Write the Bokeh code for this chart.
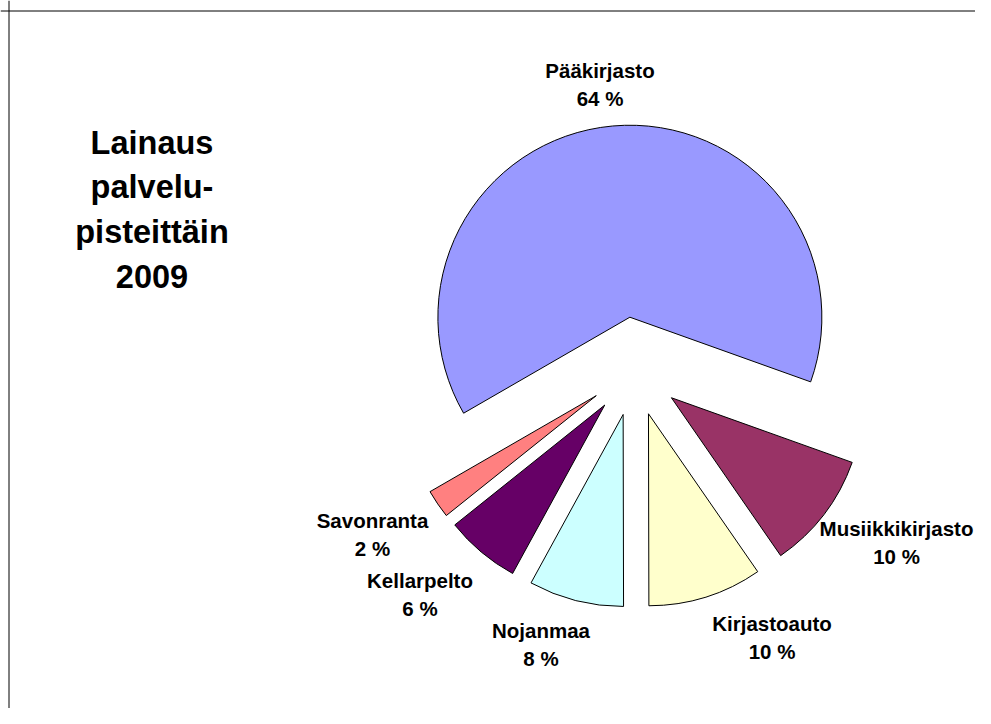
import math
from bokeh.plotting import figure
from bokeh.models import Range1d, Span, ColumnDataSource
from bokeh.core.properties import value
from bokeh.embed import file_html
from bokeh.resources import INLINE

# ---- data ----
categories = ["Pääkirjasto", "Musiikkikirjasto", "Kirjastoauto", "Nojanmaa", "Kellarpelto", "Savonranta"]
shares = [63.8, 9.9, 9.6, 8.0, 6.3, 2.4]
colors = ["#9999FF", "#993366", "#FFFFCC", "#CCFFFF", "#660066", "#FF8080"]
title_lines = ["Lainaus", "palvelu-", "pisteittäin", "2009"]

# ---- layout (pixel positions in the picture) ----
W, H = 975, 708


def X(px):
    return px


def Y(py):
    return H - py


CX, CY = 634.1, 369.0
R = 192
START = 240.0  # degrees clockwise from 12 o'clock
explode = [52.5, 46.4, 46.4, 46.4, 46.4, 46.4]
label_pos = [(599.5, 84), (896, 542), (771.5, 637), (540.5, 644), (419.5, 593.5), (372, 533.5)]
label_half = 14
title_x = 151.5
title_mid = [142, 186, 231, 276]

total = sum(shares)
xs, ys, sas, eas = [], [], [], []
cum = 0.0
for s, d in zip(shares, explode):
    t1 = START + cum / total * 360.0
    t2 = t1 + s / total * 360.0
    tm = math.radians((t1 + t2) / 2.0)
    xs.append(X(CX) + d * math.sin(tm))
    ys.append(Y(CY) + d * math.cos(tm))
    sas.append(math.radians(90.0 - t2))
    eas.append(math.radians(90.0 - t1))
    cum += s

src = ColumnDataSource(dict(x=xs, y=ys, sa=sas, ea=eas, color=colors))

p = figure(width=W, height=H, x_range=Range1d(0, W), y_range=Range1d(0, H),
           output_backend="svg", toolbar_location=None, min_border=0,
           x_axis_type=None, y_axis_type=None)
p.grid.visible = False
p.outline_line_color = None
p.background_fill_color = "white"
p.border_fill_color = "white"

p.wedge(x="x", y="y", radius=R, start_angle="sa", end_angle="ea", direction="anticlock",
        fill_color="color", line_color="black", line_width=1, source=src)

# labels
name_src = ColumnDataSource(dict(
    x=[X(lx) for lx, ly in label_pos],
    y=[Y(ly - label_half) for lx, ly in label_pos],
    t=categories))
pct_src = ColumnDataSource(dict(
    x=[X(lx) for lx, ly in label_pos],
    y=[Y(ly + label_half) for lx, ly in label_pos],
    t=[f"{round(s)} %" for s in shares]))
for s_ in (name_src, pct_src):
    p.text(x="x", y="y", text="t", source=s_, text_font=value("Liberation Sans"),
           text_font_style="bold", text_font_size="20.5px", text_align="center",
           text_baseline="middle", text_color="black")

# title
title_src = ColumnDataSource(dict(x=[X(title_x)] * len(title_lines),
                                  y=[Y(b) for b in title_mid], t=title_lines))
p.text(x="x", y="y", text="t", source=title_src, text_font=value("Liberation Sans"),
       text_font_style="bold", text_font_size="32.5px", text_align="center",
       text_baseline="middle", text_color="black")

# chart-area border (left and top edges visible)
p.add_layout(Span(location=X(8.5), dimension="height", line_color="black", line_width=1))
p.add_layout(Span(location=Y(10.5), dimension="width", line_color="black", line_width=1))

open("out.html", "w").write(file_html(p, INLINE))
